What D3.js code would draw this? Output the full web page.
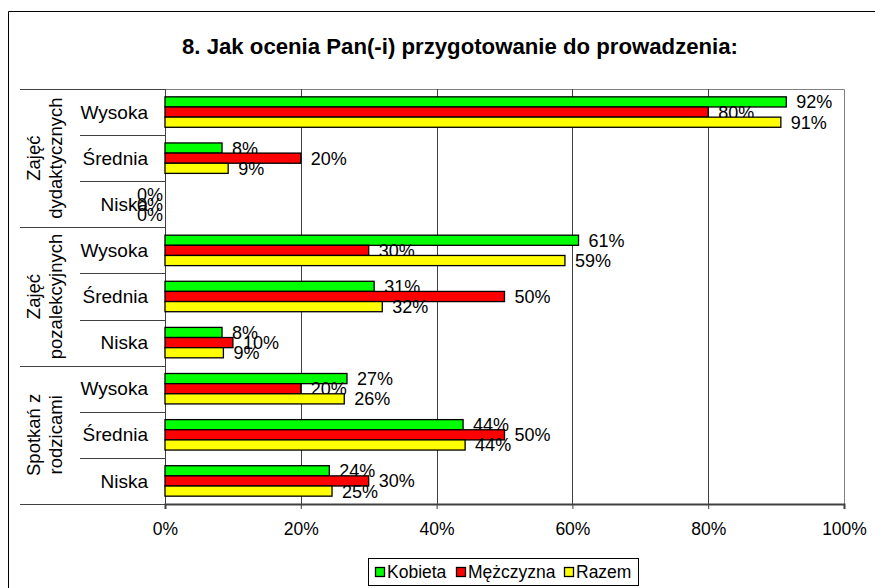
<!DOCTYPE html>
<html><head><meta charset="utf-8">
<script src="https://cdn.jsdelivr.net/npm/d3@7"></script>
<style>body{margin:0;background:#fff}svg{display:block;font-family:"Liberation Sans",Arial,sans-serif}</style>
</head><body><svg id="c" width="875" height="588"></svg>
<script>
const title = "8. Jak ocenia Pan(-i) przygotowanie do prowadzenia:";
const groups = [["Zajęć","dydaktycznych"],["Zajęć","pozalekcyjnych"],["Spotkań z","rodzicami"]];
const levels = ["Wysoka","Średnia","Niska"];
const seriesNames = ["Kobieta","Mężczyzna","Razem"];
const seriesColors = ["#00ff00","#ff0000","#ffff00"];
const kobieta   = [91.5, 8.4, 0, 60.9, 30.8, 8.4, 26.8, 43.9, 24.2];
const mezczyzna = [80, 20, 0, 30, 50, 10, 20, 50, 30];
const razem     = [90.7, 9.3, 0, 58.9, 32, 8.6, 26.4, 44.2, 24.6];
const ticks = [0,20,40,60,80,100];

const series = [kobieta, mezczyzna, razem];
const cats = [];
groups.forEach((g,gi)=>levels.forEach((l,li)=>cats.push(gi+"-"+li)));

const svg = d3.select("#c");
const L=165, R=844, T=89, B=504;
const x = d3.scaleLinear().domain([0,100]).range([L,R]);
const y = d3.scaleBand().domain(cats).range([T,B]).paddingInner(0.34).paddingOuter(0.17);
const ys = d3.scaleBand().domain(d3.range(3)).range([0,y.bandwidth()]);
const row = (B-T)/cats.length;

// outer border
svg.append("path").attr("d",`M8.5,600V11.5H880`).attr("fill","none").attr("stroke","#000").attr("stroke-width",1);

svg.append("text").attr("x",460).attr("y",54).attr("text-anchor","middle")
  .attr("font-size",22.2).attr("font-weight","bold").text(title);

// plot frame
svg.append("path").attr("d",`M${L},${T+0.5}H${R+0.5}V${B}`).attr("fill","none").attr("stroke","#808080");
// gridlines
svg.append("g").selectAll("line").data(ticks.slice(1,-1)).join("line")
  .attr("x1",d=>Math.round(x(d))+0.5).attr("x2",d=>Math.round(x(d))+0.5)
  .attr("y1",T).attr("y2",B).attr("stroke","#404040");

// bottom axis
const ax = svg.append("g").attr("transform",`translate(0,${B})`)
  .call(d3.axisBottom(x).tickValues(ticks).tickFormat(d=>d+"%").tickSizeOuter(0).tickSize(5).tickPadding(14));
ax.select(".domain").attr("stroke","#404040").attr("stroke-width",2);
ax.selectAll(".tick line").attr("stroke","#404040");
ax.selectAll("text").attr("font-size",17.5).attr("font-family","Liberation Sans, Arial, sans-serif").attr("fill","#000");

// left axis line and separators
svg.append("line").attr("x1",L+0.5).attr("x2",L+0.5).attr("y1",T).attr("y2",B+5).attr("stroke","#404040");
d3.range(cats.length+1).forEach(i=>{
  const yy = Math.round(T+i*row)+0.5;
  const isGroup = i%3===0;
  svg.append("line").attr("x1",isGroup?20:80).attr("x2",L).attr("y1",yy).attr("y2",yy).attr("stroke","#404040");
});

// level labels
svg.append("g").selectAll("text").data(cats).join("text")
  .attr("x",148).attr("y",d=>y(d)+y.bandwidth()/2).attr("dy","0.35em")
  .attr("text-anchor","end").attr("font-size",19)
  .text(d=>levels[+d.split("-")[1]]);

// group labels
groups.forEach((g,gi)=>{
  const cy = T + (gi*3+1.5)*row;
  const t = svg.append("text").attr("transform",`translate(45,${cy}) rotate(-90)`)
    .attr("text-anchor","middle").attr("font-size",18.5);
  g.forEach((line,li)=>t.append("tspan").attr("x",0).attr("y",(li-0.5)*22+6).text(line));
});

// bars and labels
series.forEach((vals,si)=>{
  const g = svg.append("g");
  g.selectAll("rect").data(vals).join("rect")
    .attr("x",L).attr("y",(d,i)=>y(cats[i])+ys(si))
    .attr("width",d=>x(d)-L).attr("height",ys.bandwidth())
    .attr("fill",seriesColors[si]).attr("stroke","#000").attr("stroke-width",1.3)
    .attr("display",d=>d>0?null:"none");
  g.selectAll("text").data(vals).join("text")
    .attr("x",d=>d>0?x(d)+10:L-2).attr("text-anchor",d=>d>0?"start":"end")
    .attr("y",(d,i)=>y(cats[i])+ys(si)+ys.bandwidth()/2).attr("dy","0.36em")
    .attr("font-size",18).text(d=>Math.round(d)+"%");
});

// legend
const lg = svg.append("g");
lg.append("rect").attr("x",368.5).attr("y",558.5).attr("width",270).attr("height",27)
  .attr("fill","#fff").attr("stroke","#000");
const lx=[375,456,564];
seriesNames.forEach((n,i)=>{
  lg.append("rect").attr("x",lx[i]+0.5).attr("y",567.5).attr("width",9).attr("height",9)
    .attr("fill",seriesColors[i]).attr("stroke","#000").attr("stroke-width",1.3);
  lg.append("text").attr("x",lx[i]+12).attr("y",572).attr("dy","0.36em").attr("font-size",17.5).text(n);
});
</script></body></html>
